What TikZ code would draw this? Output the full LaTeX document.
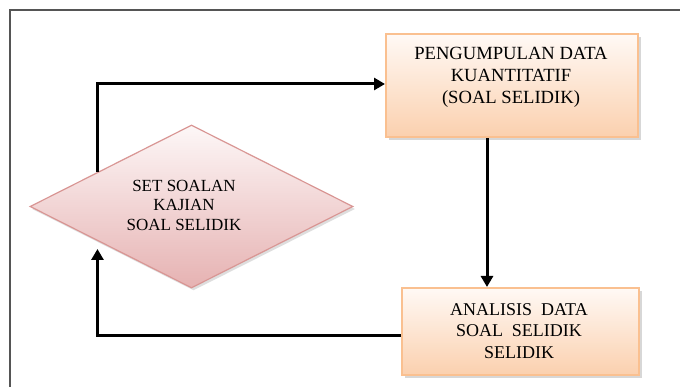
\documentclass[tikz,border=0pt]{standalone}
\usepackage{fontspec}
\setmainfont{Liberation Serif}
\usetikzlibrary{shapes.geometric,shadows,arrows.meta,calc}
\definecolor{boxtop}{HTML}{FFF9F5}
\definecolor{boxbot}{HTML}{FBD0AE}
\definecolor{boxline}{HTML}{FAC090}
\definecolor{diatop}{HTML}{FDF7F7}
\definecolor{diabot}{HTML}{E6B2B2}
\definecolor{dialine}{HTML}{D99694}
\definecolor{framecol}{HTML}{555555}
\begin{document}
\begin{tikzpicture}[x=1pt,y=-1pt,
  procbox/.style={rectangle, draw=boxline, line width=2pt, top color=boxtop, bottom color=boxbot,
    inner sep=0pt, drop shadow={shadow xshift=2.5pt, shadow yshift=-3pt, opacity=0.22, fill=black!70}},
  decbox/.style={diamond, draw=dialine, line width=1.2pt, top color=diatop, bottom color=diabot,
    inner sep=0pt, drop shadow={shadow xshift=2pt, shadow yshift=-2.5pt, opacity=0.18, fill=black!70}},
  boxtext/.style={align=center, inner sep=0pt, font=\fontsize{18.6}{22}\selectfont},
  boxtextb/.style={align=center, inner sep=0pt, font=\fontsize{18}{21.5}\selectfont},
  diatext/.style={align=center, inner sep=0pt, font=\fontsize{17}{19.5}\selectfont},
  arr/.style={line width=3pt, -{Triangle[length=11pt,width=12pt]}},
  frameline/.style={draw=framecol, line width=1.4pt}]
\useasboundingbox (0,0) rectangle (680,387);
\fill[white] (0,0) rectangle (680,387);
% frame
\coordinate (fc) at (10,10);
\coordinate (fr) at (680,10);
\coordinate (fb) at (10,387);
\draw[frameline] (fr) -- (fc) -- (fb);
% nodes
\node[procbox, minimum width=252pt, minimum height=103pt] (b1) at (512,86) {};
\node[procbox, minimum width=237pt, minimum height=87pt] (b2) at (520.5,331.5) {};
\node[decbox, minimum width=323pt, minimum height=163pt] (d) at (191.5,206.5) {};
\node[boxtext] (t1) at (511,77) {PENGUMPULAN DATA\\KUANTITATIF\\(SOAL SELIDIK)};
\node[boxtextb] (t2) at (519,331) {ANALISIS \ DATA\\SOAL \ SELIDIK\\SELIDIK};
\node[diatext] (t3) at (184,205) {SET SOALAN\\KAJIAN\\SOAL SELIDIK};
% connectors
\coordinate (dtop) at ($(d.west)!0.42!(d.north)$);
\coordinate (dbot) at ($(d.west)!0.42!(d.south)$);
\draw[arr] (dtop) |- ([yshift=2pt]b1.west);
\draw[arr] ([xshift=-25pt]b1.south) -- ([xshift=-25pt]b1.south |- b2.north);
\draw[arr, shorten >=8pt] ([yshift=-3.5pt]b2.west) -| (dbot);
\end{tikzpicture}
\end{document}
